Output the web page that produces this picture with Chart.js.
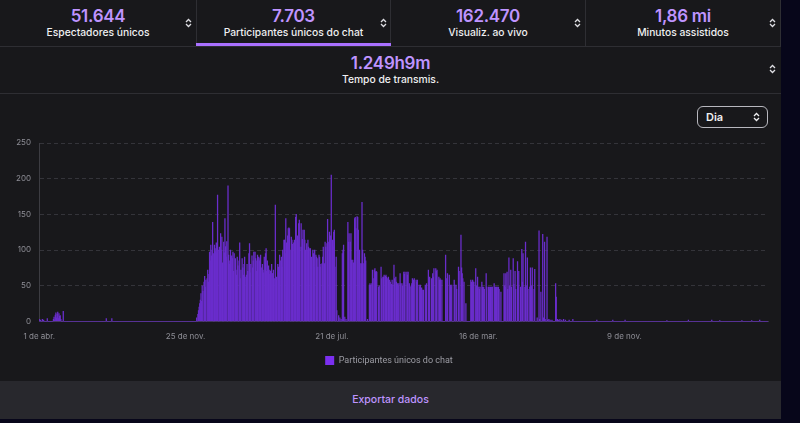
<!DOCTYPE html>
<html lang="pt-BR">
<head>
<meta charset="utf-8">
<title>Participantes únicos do chat</title>
<script src="https://cdn.jsdelivr.net/npm/chart.js@4.4.1/dist/chart.umd.min.js"></script>
<style>
    html, body { margin: 0; padding: 0; }
    body { width: 800px; height: 423px; background: #07061a; font-family: Inter, "Noto Sans", sans-serif; overflow: hidden; position: relative; }
    #painel { position: absolute; left: 0; top: 0; width: 781px; height: 419px; background: #18181b; }
    .bloco { position: absolute; top: 0; height: 46px; border-right: 1px solid #2e2e33; box-sizing: border-box; }
    .valor { position: absolute; left: 0; right: 0; text-align: center; color: #bf94ff; font-size: 17px; font-weight: 600; line-height: 20px; letter-spacing: -0.3px; }
    .rotulo { position: absolute; left: 0; right: 0; text-align: center; color: #efeff1; font-size: 10.3px; font-weight: 500; line-height: 14px; }
    .ordem { position: absolute; width: 7px; height: 10px; }
    .linha { position: absolute; left: 0; width: 781px; height: 1px; background: #2e2e33; }
    #sublinhado { position: absolute; left: 196px; top: 43px; width: 195px; height: 3px; background: #a970ff; }
    #seletor { position: absolute; left: 697px; top: 106px; width: 71px; height: 22px; border: 1.5px solid #b8b8bf; border-radius: 6px; box-sizing: border-box; }
    #seletor span { position: absolute; left: 8px; top: 3px; color: #efeff1; font-size: 11px; font-weight: 600; line-height: 14px; }
    #grafico { position: absolute; left: 0; top: 94px; width: 781px; height: 287px; }
    #exportar { position: absolute; left: 0; top: 381px; width: 781px; height: 38px; background: #28282d; text-align: center; color: #bf94ff; font-size: 10.5px; font-weight: 500; line-height: 38px; }
</style>
</head>
<body>
<div id="painel">
    <div class="bloco" style="left:0;width:197px">
        <div class="valor" style="top:6px">51.644</div>
        <div class="rotulo" style="top:25px">Espectadores únicos</div>
    </div>
    <div class="bloco" style="left:197px;width:194px">
        <div class="valor" style="top:6px">7.703</div>
        <div class="rotulo" style="top:25px">Participantes únicos do chat</div>
    </div>
    <div class="bloco" style="left:391px;width:195px">
        <div class="valor" style="top:6px">162.470</div>
        <div class="rotulo" style="top:25px">Visualiz. ao vivo</div>
    </div>
    <div class="bloco" style="left:586px;width:195px">
        <div class="valor" style="top:6px">1,86 mi</div>
        <div class="rotulo" style="top:25px">Minutos assistidos</div>
    </div>
    <div id="sublinhado"></div>
    <div class="linha" style="top:46px"></div>
    <div class="valor" style="top:53px;left:0;width:781px">1.249h9m</div>
    <div class="rotulo" style="top:72px;left:0;width:781px">Tempo de transmis.</div>
    <div class="linha" style="top:93px"></div>

    <svg class="ordem" style="left:185px;top:18px" viewBox="0 0 7 10"><path d="M1 4L3.5 1.5L6 4M1 6L3.5 8.5L6 6" stroke="#dedee3" stroke-width="1.3" fill="none"/></svg>
    <svg class="ordem" style="left:380px;top:18px" viewBox="0 0 7 10"><path d="M1 4L3.5 1.5L6 4M1 6L3.5 8.5L6 6" stroke="#dedee3" stroke-width="1.3" fill="none"/></svg>
    <svg class="ordem" style="left:574px;top:18px" viewBox="0 0 7 10"><path d="M1 4L3.5 1.5L6 4M1 6L3.5 8.5L6 6" stroke="#dedee3" stroke-width="1.3" fill="none"/></svg>
    <svg class="ordem" style="left:769px;top:18px" viewBox="0 0 7 10"><path d="M1 4L3.5 1.5L6 4M1 6L3.5 8.5L6 6" stroke="#dedee3" stroke-width="1.3" fill="none"/></svg>
    <svg class="ordem" style="left:769px;top:64px" viewBox="0 0 7 10"><path d="M1 4L3.5 1.5L6 4M1 6L3.5 8.5L6 6" stroke="#dedee3" stroke-width="1.3" fill="none"/></svg>

    <div id="seletor"><span>Dia</span>
        <svg class="ordem" style="left:55px;top:5px" viewBox="0 0 7 10"><path d="M1 4L3.5 1.5L6 4M1 6L3.5 8.5L6 6" stroke="#efeff1" stroke-width="1.3" fill="none"/></svg>
    </div>

    <div id="grafico"><canvas id="graficoChat"></canvas></div>
    <div id="exportar">Exportar dados</div>
</div>

<script>
// participantes únicos do chat por dia, a partir de 1 de abr.
const participantes = [
    3,0,2,0,0,3,0,2,0,0,0,0,0,4,0,0,0,0,0,0,
    0,0,0,3,6,2,9,12,5,10,13,4,11,7,8,3,0,0,0,14,
    0,0,0,0,0,0,0,0,0,0,0,0,0,0,0,0,0,0,0,0,
    0,0,0,0,0,0,0,0,0,0,0,0,0,0,0,0,0,0,0,0,
    0,0,0,0,0,0,0,0,0,0,0,0,0,0,0,0,0,0,0,0,
    0,0,0,0,0,0,0,0,0,4,0,0,0,0,0,0,0,0,4,0,
    0,0,0,0,0,0,0,0,0,0,0,0,0,0,0,0,0,0,0,0,
    0,0,0,0,0,0,0,0,0,0,0,0,0,0,0,0,0,0,0,0,
    0,0,0,0,0,0,0,0,0,0,0,0,0,0,0,0,0,0,0,0,
    0,0,0,0,0,0,0,0,0,0,0,0,0,0,0,0,0,0,0,0,
    0,0,0,0,0,0,0,0,0,0,0,0,0,0,0,0,0,0,0,0,
    0,0,0,0,0,0,0,0,0,0,0,0,0,0,0,0,0,0,0,0,
    0,0,0,0,0,0,0,0,0,0,0,0,0,0,0,0,5,0,10,15,
    20,25,30,39,28,50,42,0,55,63,48,58,0,60,72,55,66,97,85,107,
    92,100,139,95,0,107,102,98,110,96,177,100,0,104,95,123,100,118,82,0,
    111,96,144,105,90,112,0,190,93,80,85,100,0,92,88,97,70,95,0,88,
    72,65,90,78,0,85,110,60,72,0,88,75,65,80,90,0,62,65,80,70,
    0,95,109,68,80,0,92,75,85,97,0,97,88,70,85,93,0,90,85,88,
    93,75,0,80,72,68,90,0,95,102,70,85,0,78,66,72,70,0,80,67,
    67,72,0,60,163,55,62,0,80,76,70,93,85,0,90,76,100,0,114,114,
    95,144,110,0,120,130,131,130,100,0,118,114,108,0,110,114,95,146,150,0,
    120,110,137,142,104,0,137,104,115,128,0,128,114,100,0,109,100,114,104,0,
    102,102,72,90,0,100,95,76,100,0,93,90,88,76,0,93,90,76,80,0,
    81,90,104,0,81,111,104,0,109,143,111,0,125,114,120,205,0,114,104,125,
    128,76,0,90,15,0,0,8,0,5,0,3,0,95,100,107,0,6,0,3,
    0,0,139,111,123,0,111,123,86,0,86,82,0,144,146,130,0,147,146,128,
    0,100,81,0,81,167,100,0,81,95,90,85,0,0,3,0,0,51,53,51,
    0,53,72,60,0,72,74,69,70,69,0,0,48,50,0,0,76,60,0,62,
    62,65,0,63,65,62,0,60,62,0,58,55,0,52,58,51,0,79,60,0,
    62,55,0,53,50,53,0,67,53,0,53,50,0,69,66,69,0,0,69,65,
    69,0,53,48,0,50,53,60,0,58,60,0,0,58,55,58,0,0,51,48,
    51,0,47,44,0,44,0,0,51,48,53,0,0,72,60,62,0,0,60,0,
    67,62,74,0,0,74,70,72,0,0,62,58,60,58,0,58,0,0,0,0,
    0,93,60,0,67,0,0,65,0,51,48,51,0,0,0,58,51,0,51,45,
    0,0,76,70,0,0,121,75,67,60,0,55,0,0,25,0,0,0,0,0,
    0,0,58,55,0,58,55,55,0,0,74,50,0,62,0,48,45,48,0,0,
    55,48,0,48,45,0,0,67,48,0,0,48,48,45,48,0,48,48,0,0,
    53,48,48,0,48,48,0,48,45,0,0,41,0,0,0,0,67,50,48,67,
    0,69,45,0,89,50,0,72,48,0,0,88,52,0,70,45,0,0,84,50,
    70,0,0,48,0,101,55,95,0,0,48,111,50,0,89,45,0,0,48,75,
    0,50,75,0,0,45,73,0,0,0,5,0,0,127,3,0,41,0,0,122,
    5,0,111,3,0,0,118,2,0,3,0,2,0,0,2,0,0,0,0,0,
    53,34,0,3,0,2,0,3,0,0,2,0,0,3,0,0,2,0,0,0,
    0,0,2,0,0,0,0,0,3,0,0,0,0,0,0,0,0,0,0,0,
    0,0,0,0,0,0,0,0,0,0,0,0,0,0,0,0,0,0,0,0,
    0,0,0,0,0,0,0,2,0,0,0,0,0,0,0,0,0,0,0,0,
    0,0,0,0,0,0,0,0,0,0,0,0,0,2,0,0,0,0,0,0,
    0,0,0,0,0,0,0,0,0,0,0,0,0,2,0,0,0,0,0,0,
    0,0,0,0,0,0,0,0,0,0,0,0,0,0,0,0,0,0,0,0,
    0,0,0,0,0,0,0,0,0,0,0,0,0,0,0,0,0,0,0,0,
    0,0,0,0,0,0,0,0,0,0,0,0,0,0,0,0,0,0,0,0,
    0,1,0,0,0,0,0,0,0,0,0,0,0,0,0,0,0,0,0,0,
    0,0,0,0,0,0,0,0,0,0,0,0,0,0,0,0,2,0,0,0,
    0,0,0,0,0,0,0,0,0,0,0,0,0,0,0,0,0,0,0,0,
    0,0,0,0,0,0,0,0,0,0,0,0,0,0,2,0,0,0,0,0,
    0,0,0,0,0,0,0,1,0,0,0,0,0,0,0,0,0,0,0,0,
    0,0,0,0,0,0,0,0,0,0,0,0,0,0,0,0,0,0,0,0,
    0,0,0,1,0,0,0,0,0,0,0,0,0,0,0,0,0,0,0,1,
    0,0,0,0,0,0,0,0,0,0,0,0,2,0,0,0,0,0,0,0,
    0,0,0,0,0,0
];

// rótulos do eixo x (um a cada 238 dias)
const rotulosEixoX = ['1 de abr.', '25 de nov.', '21 de jul.', '16 de mar.', '9 de nov.'];
const passoRotulo = 238;
const ticksY = [0, 50, 100, 150, 200, 250];

// categorias: um dia por barra
const meses = ['jan.', 'fev.', 'mar.', 'abr.', 'mai.', 'jun.', 'jul.', 'ago.', 'set.', 'out.', 'nov.', 'dez.'];
const inicio = Date.UTC(2020, 3, 1);
const dias = participantes.map((_, i) => {
    const d = new Date(inicio + i * 86400000);
    return d.getUTCDate() + ' de ' + meses[d.getUTCMonth()];
});

const corTexto = '#8e8e96';

new Chart(document.getElementById('graficoChat'), {
    type: 'bar',
    data: {
        labels: dias,
        datasets: [{
            label: 'Participantes únicos do chat',
            data: participantes,
            backgroundColor: '#6a2dcc',
            borderWidth: 0,
            barPercentage: 1,
            categoryPercentage: 1
        }]
    },
    options: {
        responsive: true,
        maintainAspectRatio: false,
        animation: false,
        layout: { padding: { left: 10, right: 13, top: 49, bottom: 6 } },
        plugins: {
            tooltip: { enabled: false },
            legend: {
                position: 'bottom',
                labels: {
                    color: '#9c9ca4',
                    font: { family: 'Roboto', size: 9 },
                    boxWidth: 9,
                    boxHeight: 9,
                    padding: 5,
                    // a caixa da legenda é um pouco mais viva que as barras
                    generateLabels: chart => Chart.defaults.plugins.legend.labels.generateLabels(chart)
                        .map(l => ({ ...l, fillStyle: '#7b2ff0', strokeStyle: '#7b2ff0', lineWidth: 0 }))
                }
            }
        },
        scales: {
            x: {
                grid: { display: false, drawTicks: false },
                border: { color: '#3c3c42' },
                ticks: {
                    autoSkip: false,
                    maxRotation: 0,
                    color: corTexto,
                    font: { family: 'Inter', size: 8 },
                    padding: 10,
                    callback: (v, i) => i % passoRotulo === 0 ? rotulosEixoX[i / passoRotulo] : null
                }
            },
            y: {
                min: ticksY[0],
                max: ticksY[ticksY.length - 1],
                afterFit: s => { s.width = 29; },
                afterBuildTicks: s => { s.ticks = ticksY.map(v => ({ value: v })); },
                grid: { color: '#34343a', drawTicks: false },
                border: { color: '#3c3c42', dash: [4, 3] },
                ticks: {
                    color: corTexto,
                    font: { family: 'Inter', size: 8 },
                    padding: 8
                }
            }
        }
    }
});
</script>
</body>
</html>
